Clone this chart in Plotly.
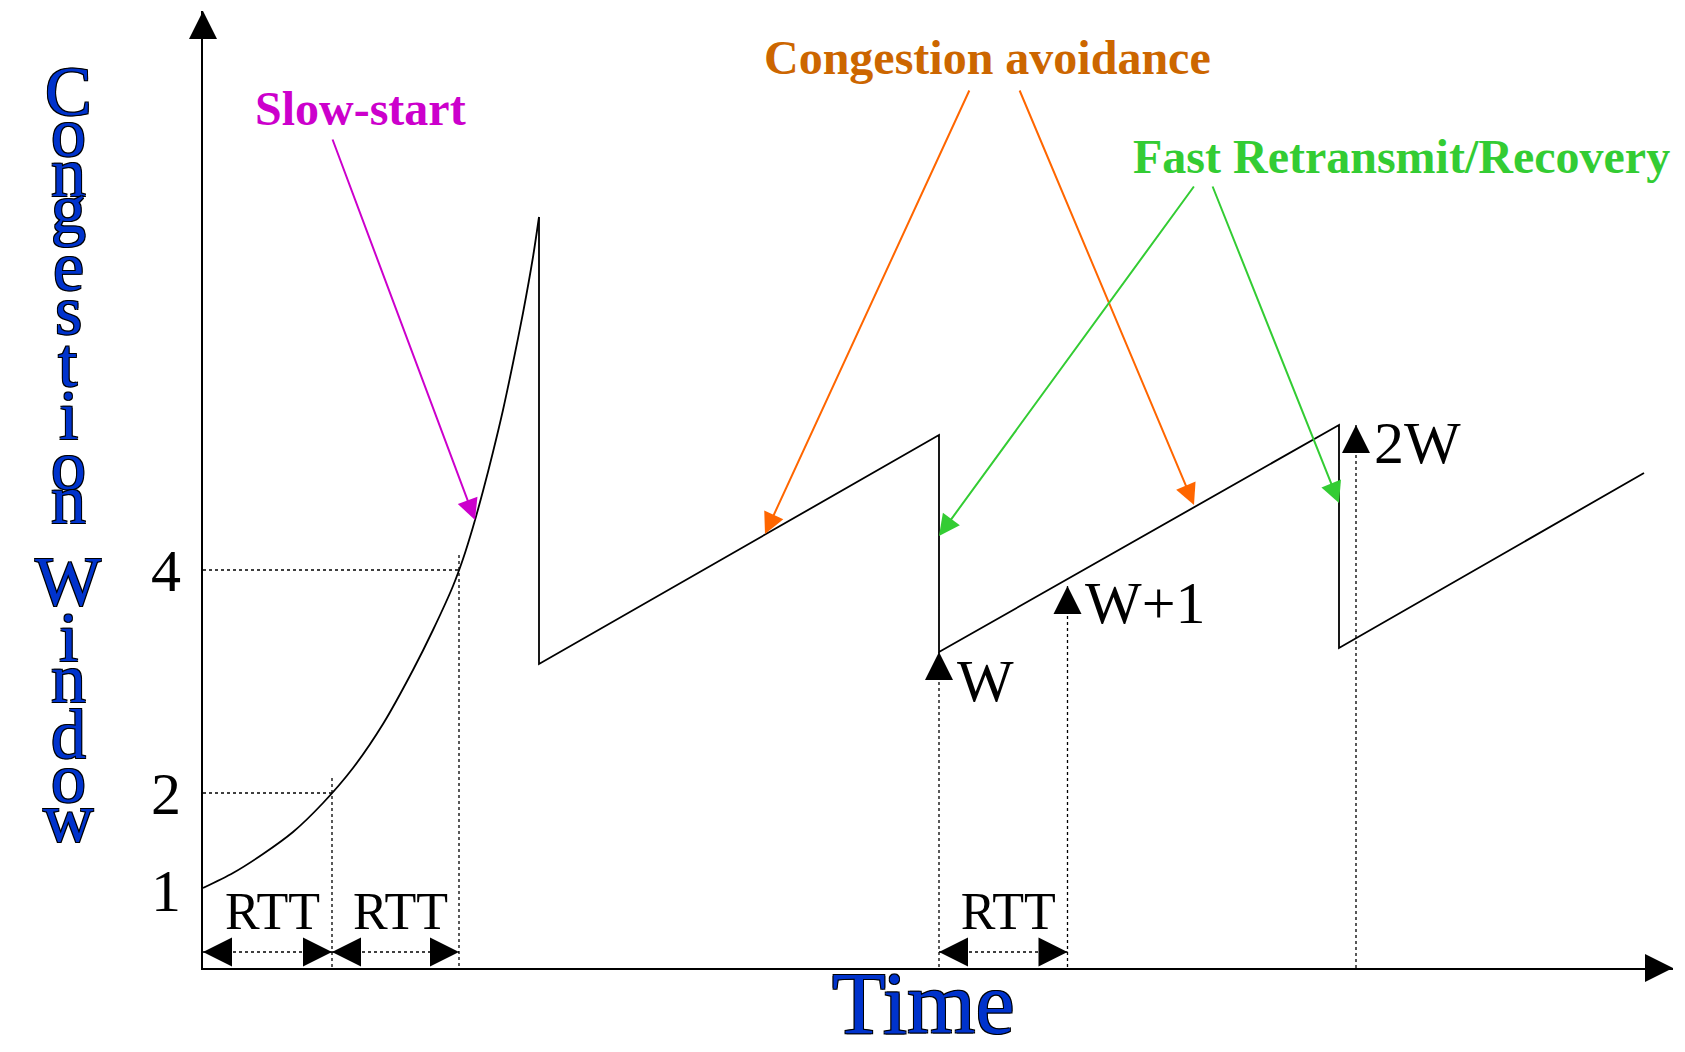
import plotly.graph_objects as go

# ---------------- data ----------------
# slow-start (exponential growth) curve
ss_t    = [0.00, 0.30, 0.60, 0.90, 1.20, 1.50, 1.80, 2.10, 2.30, 2.50,
           2.60, 2.70, 2.80, 2.90, 3.00, 3.10, 3.20, 3.30, 3.36]
ss_cwnd = [0.80, 0.95, 1.14, 1.36, 1.65, 2.00, 2.44, 2.98, 3.38, 3.82,
           4.09, 4.41, 4.77, 5.16, 5.58, 6.05, 6.55, 7.11, 7.51]

# congestion avoidance sawtooth
saw_t    = [3.36, 3.36, 7.36, 7.36, 11.36, 11.36, 14.41]
saw_cwnd = [7.51, 3.04, 5.33, 3.16, 5.43, 3.20, 4.95]

# y tick labels
ytick_vals = [0.78, 1.75, 3.98]
ytick_text = ["1", "2", "4"]

# RTT intervals
rtt_start = [0.00, 1.29, 7.36]
rtt_end   = [1.29, 2.56, 8.645]
rtt_label = ["RTT", "RTT", "RTT"]

# window-size markers
mark_t    = [7.36, 8.645, 11.53]
mark_cwnd = [3.16, 3.82, 5.43]
mark_text = ["W", "W+1", "2W"]

# phase labels and the points their arrows indicate
phase_labels = ["Slow-start", "Congestion avoidance", "Fast Retransmit/Recovery"]
phase_colors = ["#CC00CC", "#CC6600", "#33CC33"]
arrow_colors = ["#CC00CC", "#FF6600", "#33CC33"]
arrow_phase  = [0, 1, 1, 2, 2]
arrow_head_t = [2.72, 5.62, 9.91, 7.36, 11.36]
arrow_head_c = [4.48, 4.34, 4.63, 4.32, 4.65]

X_MAX, Y_MAX = 14.7, 9.57

# page geometry (the html body adds an 8px offset)
OFF = 8
PLOT_L, PLOT_T = 203, 11          # page px of plot-area left / top
PLOT_W, PLOT_H = 1470, 957

def px_x(px):   # page px -> paper x
    return (px - PLOT_L) / PLOT_W

def px_y(py):   # page px -> paper y
    return (PLOT_T + PLOT_H - py) / PLOT_H

fig = go.Figure()

SERIF = "Liberation Serif"
BLACK = "#000000"

# dotted guides
gx, gy = [], []
for cv, tv in zip(ytick_vals[1:], rtt_end[:2]):
    gx += [0, tv, None, tv, tv, None]
    gy += [cv, cv, None, cv + 0.15, 0, None]
for t, c in zip(mark_t, mark_cwnd):
    gx += [t, t, None]
    gy += [c, 0, None]
for s, e in zip(rtt_start, rtt_end):
    gx += [s, e, None]
    gy += [0.16, 0.16, None]
fig.add_trace(go.Scatter(x=gx, y=gy, mode="lines",
                         line=dict(color=BLACK, width=1.3, dash="dot"),
                         hoverinfo="skip", cliponaxis=False))

# main curves
fig.add_trace(go.Scatter(x=ss_t, y=ss_cwnd, mode="lines",
                         line=dict(color=BLACK, width=1.8, shape="spline", smoothing=0.8),
                         hoverinfo="skip"))
fig.add_trace(go.Scatter(x=saw_t, y=saw_cwnd, mode="lines",
                         line=dict(color=BLACK, width=1.8), hoverinfo="skip"))

# RTT arrowheads
fig.add_trace(go.Scatter(x=rtt_start, y=[0.16] * len(rtt_start), mode="markers",
                         marker=dict(symbol="arrow-left", size=29, color=BLACK, line_width=0),
                         hoverinfo="skip", cliponaxis=False))
fig.add_trace(go.Scatter(x=rtt_end, y=[0.16] * len(rtt_end), mode="markers",
                         marker=dict(symbol="arrow-right", size=29, color=BLACK, line_width=0),
                         hoverinfo="skip", cliponaxis=False))
# RTT labels
fig.add_trace(go.Scatter(x=[(s + e) / 2 + 0.05 for s, e in zip(rtt_start, rtt_end)],
                         y=[0.525] * len(rtt_start), mode="text", text=rtt_label,
                         textfont=dict(family=SERIF, size=52, color=BLACK),
                         hoverinfo="skip", cliponaxis=False))

# W markers
fig.add_trace(go.Scatter(x=mark_t, y=mark_cwnd, mode="markers",
                         marker=dict(symbol="arrow-up", size=28, color=BLACK, line_width=0),
                         hoverinfo="skip", cliponaxis=False))

# axis arrow heads
fig.add_trace(go.Scatter(x=[0], y=[Y_MAX], mode="markers",
                         marker=dict(symbol="arrow-up", size=28, color=BLACK, line_width=0),
                         hoverinfo="skip", cliponaxis=False))
fig.add_trace(go.Scatter(x=[X_MAX], y=[0], mode="markers",
                         marker=dict(symbol="arrow-right", size=28, color=BLACK, line_width=0),
                         hoverinfo="skip", cliponaxis=False))

annotations = []

# marker labels
mark_label_pos = [(7.82, 2.87), (9.42, 3.65), (12.14, 5.25)]
for txt, (lx, ly) in zip(mark_text, mark_label_pos):
    annotations.append(dict(x=lx, y=ly, text=txt, showarrow=False,
                            xanchor="center", yanchor="middle",
                            font=dict(family=SERIF, size=60, color=BLACK)))

# phase labels
label_pos = [(1.57, 8.60), (7.84, 9.11), (11.98, 8.12)]
for txt, col, (lx, ly) in zip(phase_labels, phase_colors, label_pos):
    annotations.append(dict(x=lx, y=ly, text="<b>" + txt + "</b>", showarrow=False,
                            xanchor="center", yanchor="middle",
                            font=dict(family=SERIF, size=48, color=col)))

# phase arrows
arrow_tails = [(1.29, 8.30), (7.67, 8.79), (8.16, 8.79), (9.92, 7.83), (10.09, 7.83)]
for ph, hx, hy, (tx, ty) in zip(arrow_phase, arrow_head_t, arrow_head_c, arrow_tails):
    annotations.append(dict(x=hx, y=hy, ax=tx, ay=ty, axref="x", ayref="y",
                            text="", showarrow=True, arrowhead=2, arrowsize=2.1,
                            arrowwidth=2, arrowcolor=arrow_colors[ph], standoff=0))

# stacked vertical axis title
outline = "-1px -1px 0 #000, 1px -1px 0 #000, -1px 1px 0 #000, 1px 1px 0 #000"
LFS = 70
letters = list("CongestionWindow")
letter_base_px = [115, 156, 196, 232, 290, 334, 386, 439, 489, 523,
                  605, 661, 702, 758, 802, 841]
for ch, b in zip(letters, letter_base_px):
    annotations.append(dict(xref="paper", yref="paper",
                            x=px_x(68), y=px_y(b - 0.3375 * LFS),
                            text=ch, showarrow=False, xanchor="center", yanchor="middle",
                            font=dict(family=SERIF, size=LFS, color="#0033CC", shadow=outline)))

# x axis title
TFS = 88
annotations.append(dict(xref="paper", yref="paper",
                        x=px_x(923), y=px_y(1033 - 0.3375 * TFS),
                        text="Time", showarrow=False, xanchor="center", yanchor="middle",
                        font=dict(family=SERIF, size=TFS, color="#0033CC", shadow=outline)))

fig.update_layout(
    width=1685, height=1052,
    margin=dict(l=PLOT_L - OFF, r=1685 - (PLOT_L - OFF) - PLOT_W,
                t=PLOT_T - OFF, b=1052 - (PLOT_T - OFF) - PLOT_H),
    paper_bgcolor="white", plot_bgcolor="white",
    showlegend=False, hovermode=False,
    annotations=annotations,
    xaxis=dict(range=[0, X_MAX], showgrid=False, zeroline=False, showticklabels=False,
               ticks="", showline=True, linecolor=BLACK, linewidth=2, fixedrange=True,
               automargin=False),
    yaxis=dict(range=[0, Y_MAX], showgrid=False, zeroline=False,
               tickvals=ytick_vals, ticktext=ytick_text, ticks="",
               tickfont=dict(family=SERIF, size=60, color=BLACK),
               ticklabelstandoff=8, automargin=False,
               showline=True, linecolor=BLACK, linewidth=2, fixedrange=True),
)

fig.write_html("out.html")
